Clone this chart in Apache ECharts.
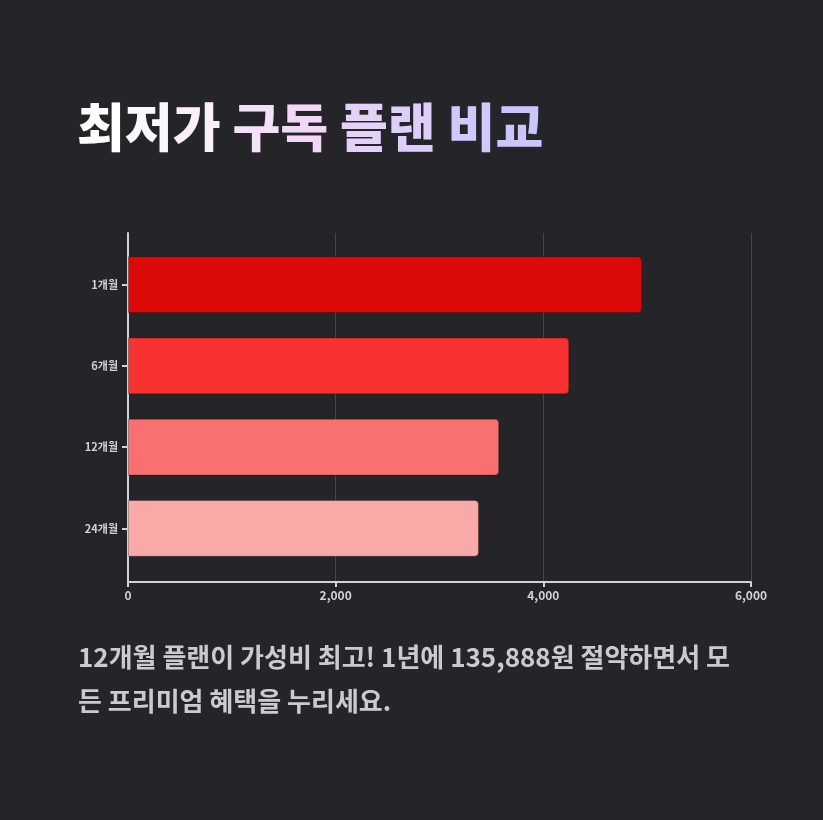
<!DOCTYPE html>
<html>
<head>
<meta charset="UTF-8">
<title>최저가 구독 플랜 비교</title>
<script src="https://cdn.jsdelivr.net/npm/echarts@6/dist/echarts.min.js"></script>
<style>
html, body { margin: 0; padding: 0; background: #252529; }
#main { width: 823px; height: 820px; }
</style>
</head>
<body>
<div id="main"></div>
<script type="text/javascript">
// data
var plans = ['1개월', '6개월', '12개월', '24개월'];
var prices = [4950, 4250, 3575, 3380];
var barColors = ['#dc0909', '#f83131', '#f87070', '#fba8a8'];
var xTicks = [0, 2000, 4000, 6000];
var titleText = '최저가 구독 플랜 비교';
var noteText = '12개월 플랜이 가성비 최고! 1년에 135,888원 절약하면서 모\n든 프리미엄 혜택을 누리세요.';

var axisColor = '#cfd2da';
var font = '"Noto Sans CJK KR", "Noto Sans", sans-serif';

// title: white -> pink -> lavender, one rich style per character
var titleStops = ['#ffffff', '#f0d4f5', '#c9c6ff'];
var titleRich = {};
var titleRichText = '';
(function() {
	var chars = titleText.split('');
	var n = chars.length - 1;
	chars.forEach(function(ch, i) {
		var t = i / n;
		var c = t < 0.5
			? echarts.color.lerp(t * 2, [titleStops[0], titleStops[1]])
			: echarts.color.lerp((t - 0.5) * 2, [titleStops[1], titleStops[2]]);
		titleRich['c' + i] = { fill : c, font : '900 52px ' + font };
		titleRichText += ch === ' ' ? ' ' : '{c' + i + '|' + ch + '}';
	});
})();

var chart = echarts.init(document.getElementById('main'));
chart.setOption({
	backgroundColor : '#252529',
	animation : false,
	textStyle : { fontFamily : font },
	graphic : [ {
		type : 'text',
		left : 77,
		top : 101,
		style : {
			text : titleRichText,
			font : '900 52px ' + font,
			fill : '#ffffff',
			rich : titleRich
		}
	}, {
		type : 'text',
		left : 78,
		top : 635,
		style : {
			text : noteText,
			font : 'bold 26px ' + font,
			lineHeight : 44,
			fill : '#c9cbd3'
		}
	} ],
	grid : [ {
		left : 128, right : 72, top : 233, height : 349
	}, {
		left : 128, right : 72, top : 244, height : 325
	} ],
	xAxis : [ {
		gridIndex : 0,
		type : 'value',
		min : xTicks[0],
		max : xTicks[xTicks.length - 1],
		interval : xTicks[1] - xTicks[0],
		axisLine : { show : true, lineStyle : { color : axisColor, width : 2 } },
		axisTick : { show : true, length : 5, lineStyle : { color : axisColor, width : 2 } },
		axisLabel : {
			color : axisColor, fontSize : 12, fontWeight : 'bold', margin : 7,
			formatter : function(v) { return v.toLocaleString('en-US'); }
		},
		splitLine : { show : true, lineStyle : { color : '#46464c', width : 1 } }
	}, {
		gridIndex : 1,
		type : 'value',
		min : xTicks[0],
		max : xTicks[xTicks.length - 1],
		show : false
	} ],
	yAxis : [ {
		gridIndex : 0,
		type : 'value',
		min : 0, max : 1,
		axisLine : { show : true, lineStyle : { color : axisColor, width : 2 } },
		axisTick : { show : false },
		axisLabel : { show : false },
		splitLine : { show : false }
	}, {
		gridIndex : 1,
		type : 'category',
		inverse : true,
		data : plans,
		axisLine : { show : false },
		axisTick : { show : true, alignWithLabel : true, length : 6, lineStyle : { color : axisColor, width : 2 } },
		axisLabel : { color : axisColor, fontSize : 11, fontWeight : 'bold', margin : 10 }
	} ],
	series : [ {
		type : 'bar',
		xAxisIndex : 1,
		yAxisIndex : 1,
		barWidth : '70%',
		data : prices.map(function(v, i) {
			return {
				value : v,
				itemStyle : {
					color : barColors[i],
					borderColor : 'rgba(0,0,0,0.25)',
					borderWidth : 1,
					borderRadius : [ 0, 4, 4, 0 ]
				}
			};
		})
	} ]
});
</script>
</body>
</html>
